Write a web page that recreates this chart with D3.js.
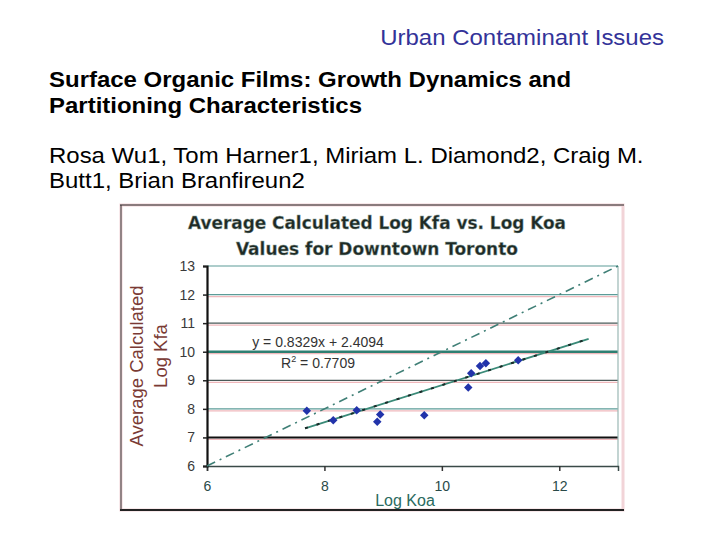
<!DOCTYPE html>
<html>
<head>
<meta charset="utf-8">
<script src="https://cdn.jsdelivr.net/npm/d3@7"></script>
<style>
  body { margin: 0; background: #fff; }
  svg { display: block; }
</style>
</head>
<body>
<div id="slide"></div>
<script>
var svgWidth = 720;
var svgHeight = 540;

// slide texts
var headerText = "Urban Contaminant Issues";
var titleLines = ["Surface Organic Films: Growth Dynamics and", "Partitioning Characteristics"];
var authorLines = ["Rosa Wu1, Tom Harner1, Miriam L. Diamond2, Craig M.", "Butt1, Brian Branfireun2"];

// chart texts
var chartTitle = ["Average Calculated Log Kfa vs. Log Koa", "Values for Downtown Toronto"];
var yLabelLines = ["Average Calculated", "Log Kfa"];
var xLabel = "Log Koa";
var eqText = "y = 0.8329x + 2.4094";

// data
var logKoa = [7.7, 8.15, 8.55, 8.95, 8.9, 9.7, 10.45, 10.5, 10.65, 10.75, 11.3];
var logKfa = [7.93, 7.6, 7.95, 7.8, 7.55, 7.78, 8.75, 9.25, 9.5, 9.6, 9.7];
var trendX = [7.67, 12.5];
var trendY = [7.32, 10.45];
var oneToOne = [6, 13];
var xTicks = [6, 8, 10, 12];
var yTicks = [6, 7, 8, 9, 10, 11, 12, 13];

var plot = { left: 207, right: 618, top: 266, bottom: 466 };
var slideFont = "Liberation Sans, Arial, sans-serif";

var svg = d3.select("#slide").append("svg")
  .attr("width", svgWidth)
  .attr("height", svgHeight);

// slide header / title / authors (the slide text is a bit stretched sideways)
svg.append("g")
  .attr("transform", "translate(664, 45) scale(1.09, 1)")
  .append("text")
  .attr("text-anchor", "end")
  .style("font-family", slideFont)
  .style("font-size", "22px")
  .style("fill", "#333399")
  .text(headerText);

titleLines.forEach(function(t, i) {
  svg.append("g")
    .attr("transform", `translate(49, ${87 + i * 26}) scale(1.09, 1)`)
    .append("text")
    .style("font-family", slideFont)
    .style("font-size", "22px")
    .style("font-weight", "bold")
    .style("fill", "#000")
    .text(t);
});

authorLines.forEach(function(t, i) {
  svg.append("g")
    .attr("transform", `translate(49, ${163 + i * 25}) scale(1.09, 1)`)
    .append("text")
    .style("font-family", slideFont)
    .style("font-size", "22px")
    .style("fill", "#000")
    .text(t);
});

// chart picture frame
svg.append("rect")
  .attr("x", 121).attr("y", 205)
  .attr("width", 502).attr("height", 305)
  .attr("fill", "#fff")
  .attr("stroke", "#f2d4d8")
  .attr("stroke-width", 3);
svg.append("line").attr("x1", 120).attr("x2", 624).attr("y1", 205).attr("y2", 205)
  .attr("stroke", "#222").attr("stroke-width", 1.2);
svg.append("line").attr("x1", 120).attr("x2", 624).attr("y1", 510).attr("y2", 510)
  .attr("stroke", "#222").attr("stroke-width", 2);
svg.append("line").attr("x1", 121).attr("x2", 121).attr("y1", 205).attr("y2", 510)
  .attr("stroke", "#333").attr("stroke-width", 1);

var chartGroup = svg.append("g");

var xScale = d3.scaleLinear().domain([6, 13]).range([plot.left, plot.right]);
var yScale = d3.scaleLinear().domain([6, 13]).range([plot.bottom, plot.top]);

// gridlines (teal line with a pink shadow, like the scanned image)
function gridStyle(v) {
  if (v == 7) return { c: "#111", w: 2 };
  if (v == 10) return { c: "#2e7f72", w: 2.5 };
  if (v == 9 || v == 11) return { c: "#4a5a58", w: 1.2 };
  return { c: "#5c9c98", w: 1.2 };
}
var gridVals = yTicks.filter(function(v) { return v > 6; });
chartGroup.selectAll(".pink")
  .data(gridVals.filter(function(v) { return v < 13; }))
  .enter().append("line")
  .attr("x1", plot.left).attr("x2", plot.right)
  .attr("y1", d => yScale(d) + 2).attr("y2", d => yScale(d) + 2)
  .attr("stroke", "#f0b8bc").attr("stroke-width", 1.2);
chartGroup.selectAll(".grid")
  .data(gridVals)
  .enter().append("line")
  .attr("x1", plot.left).attr("x2", plot.right)
  .attr("y1", d => yScale(d)).attr("y2", d => yScale(d))
  .attr("stroke", d => gridStyle(d).c)
  .attr("stroke-width", d => gridStyle(d).w);

// right border of the plot
chartGroup.append("line")
  .attr("x1", plot.right).attr("x2", plot.right)
  .attr("y1", plot.top).attr("y2", plot.bottom)
  .attr("stroke", "#9ab8b4").attr("stroke-width", 1.2);

// axes
var xAxis = d3.axisBottom(xScale).tickValues(xTicks).tickSize(5).tickPadding(10).tickFormat(d3.format("d"));
var gx = chartGroup.append("g")
  .attr("transform", `translate(0, ${plot.bottom})`)
  .call(xAxis);
gx.select(".domain").attr("stroke", "#3a4a48").attr("stroke-width", 1.5);
gx.selectAll(".tick line").attr("stroke", "#333").attr("stroke-width", 1.5);
gx.selectAll(".tick text")
  .style("font-family", slideFont)
  .style("font-size", "14px")
  .style("fill", "#2a4a48");

var yAxis = d3.axisLeft(yScale).tickValues(yTicks).tickSize(4).tickPadding(8).tickFormat(d3.format("d"));
var gy = chartGroup.append("g")
  .attr("transform", `translate(${plot.left}, 0)`)
  .call(yAxis);
gy.select(".domain").attr("stroke", "#111").attr("stroke-width", 2.2);
gy.selectAll(".tick line").attr("stroke", "#222").attr("stroke-width", 1.5);
gy.selectAll(".tick text")
  .style("font-family", slideFont)
  .style("font-size", "14px")
  .style("fill", "#3a3a3a");

// 1:1 line
var line = d3.line().x(d => xScale(d[0])).y(d => yScale(d[1]));
chartGroup.append("path")
  .datum(oneToOne.map(v => [v, v]))
  .attr("d", line)
  .attr("fill", "none")
  .attr("stroke", "#3f7f76")
  .attr("stroke-width", 1.6)
  .attr("stroke-dasharray", "9,5,2,5");

// trend line
var trendPts = trendX.map((v, i) => [v, trendY[i]]);
chartGroup.append("path")
  .datum(trendPts)
  .attr("d", line)
  .attr("fill", "none")
  .attr("stroke", "#3a8a78")
  .attr("stroke-width", 1.8);
chartGroup.append("path")
  .datum(trendPts)
  .attr("d", line)
  .attr("fill", "none")
  .attr("stroke", "#1a2a28")
  .attr("stroke-width", 2)
  .attr("stroke-dasharray", "3,9");

// data points
chartGroup.selectAll(".pt")
  .data(logKoa)
  .enter().append("rect")
  .attr("x", (d, i) => xScale(d) - 3)
  .attr("y", (d, i) => yScale(logKfa[i]) - 3)
  .attr("width", 6).attr("height", 6)
  .attr("fill", "#2233aa")
  .attr("transform", (d, i) => `rotate(45, ${xScale(d)}, ${yScale(logKfa[i])})`);

// equation
chartGroup.append("text")
  .attr("x", 318).attr("y", 347)
  .attr("text-anchor", "middle")
  .style("font-family", slideFont)
  .style("font-size", "14px")
  .style("fill", "#333")
  .text(eqText);
var r2 = chartGroup.append("text")
  .attr("x", 318).attr("y", 368)
  .attr("text-anchor", "middle")
  .style("font-family", slideFont)
  .style("font-size", "14px")
  .style("fill", "#333");
r2.append("tspan").text("R");
r2.append("tspan").attr("dy", -6).style("font-size", "9px").text("2");
r2.append("tspan").attr("dy", 6).text(" = 0.7709");

// chart title
chartTitle.forEach(function(t, i) {
  svg.append("text")
    .attr("x", 377).attr("y", 229 + i * 26)
    .attr("text-anchor", "middle")
    .attr("textLength", i == 0 ? 378 : 282)
    .attr("lengthAdjust", "spacingAndGlyphs")
    .style("font-family", "DejaVu Sans Condensed, DejaVu Sans, sans-serif")
    .style("font-weight", "bold")
    .style("font-size", "18px")
    .style("fill", "#1e2a26")
    .style("stroke", "#8aa39c")
    .style("stroke-width", 0.4)
    .text(t);
});

// axis labels (placed left of the "10" tick label so the two don't collide)
svg.append("text")
  .attr("x", 405).attr("y", 506)
  .attr("text-anchor", "middle")
  .style("font-family", slideFont)
  .style("font-size", "16px")
  .style("fill", "#2a6a60")
  .text(xLabel);

yLabelLines.forEach(function(t, i) {
  var cx = i == 0 ? 143 : 167;
  var cy = i == 0 ? 366 : 356;
  svg.append("text")
    .attr("transform", `translate(${cx}, ${cy}) rotate(-90)`)
    .attr("text-anchor", "middle")
    .style("font-family", slideFont)
    .style("font-size", "18.5px")
    .style("fill", "#7a3a34")
    .text(t);
});
</script>
</body>
</html>
